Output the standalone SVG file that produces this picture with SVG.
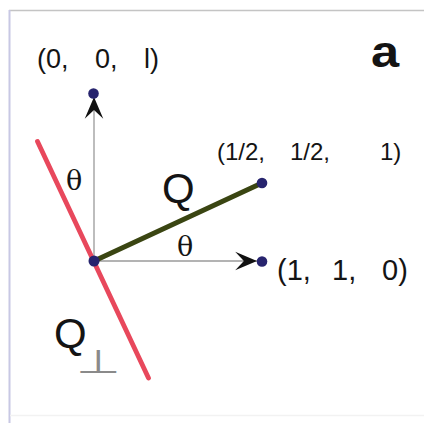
<svg xmlns="http://www.w3.org/2000/svg" width="424" height="423" viewBox="0 0 424 423">
<defs>
<style>
.t{font-family:"Liberation Sans",Arial,sans-serif;fill:#141414}
.g{font-family:"DejaVu Serif",serif;fill:#141414}
.axis{stroke:#9a9a9a;stroke-width:1.3;fill:none}
.dot{fill:#27246e}
</style>
<marker id="ah" markerUnits="userSpaceOnUse" markerWidth="24" markerHeight="20" viewBox="-21 -9 22 18" refX="0" refY="0" orient="auto">
<path d="M0,0 L-20,-8.5 L-12,0 L-20,8.5 Z" fill="#111"/>
</marker>
</defs>
<rect x="0" y="0" width="424" height="423" fill="#fff"/>
<g id="frame">
<line x1="9" y1="10.5" x2="424" y2="10.5" stroke="#c4c4c4" stroke-width="1.5"/>
<line x1="9.5" y1="10" x2="9.5" y2="423" stroke="#c8c8e4" stroke-width="2"/>
<line x1="10" y1="415.5" x2="424" y2="415.5" stroke="#f2f2f2" stroke-width="1.5"/>
</g>
<g id="connectors">
<line class="axis" x1="94" y1="261" x2="94" y2="97" marker-end="url(#ah)"/>
<line class="axis" x1="94" y1="261" x2="257" y2="261" marker-end="url(#ah)"/>
<line id="qperp-line" x1="37.5" y1="141.5" x2="148.5" y2="378" stroke="#e8485c" stroke-width="4.8" stroke-linecap="round"/>
<line id="q-line" x1="94" y1="261" x2="262" y2="183" stroke="#3a4512" stroke-width="5.2" stroke-linecap="round"/>
</g>
<g id="node-origin"><circle class="dot" cx="94" cy="261" r="5.5"/></g>
<g id="node-001">
<circle class="dot" cx="93.5" cy="93.5" r="5.3"/>
<text class="t" font-size="27" y="68"><tspan x="37">(0,</tspan><tspan x="95">0,</tspan><tspan x="144">l)</tspan></text>
</g>
<g id="node-half">
<circle class="dot" cx="262" cy="183" r="5.3"/>
<text class="t" font-size="24" y="160"><tspan x="217">(1/2,</tspan><tspan x="290">1/2,</tspan><tspan x="380">1)</tspan></text>
</g>
<g id="node-110">
<circle class="dot" cx="262" cy="261.5" r="5.3"/>
<text class="t" font-size="29" y="280"><tspan x="277">(1,</tspan><tspan x="332">1,</tspan><tspan x="382">0)</tspan></text>
</g>
<g id="labels">
<text class="t" font-size="44" font-weight="bold" transform="translate(371 67) scale(1.15 1)">a</text>
<text class="g" font-size="27" x="66" y="190">θ</text>
<text class="g" font-size="27" x="177" y="256">θ</text>
<text class="t" font-size="42" x="162" y="203">Q</text>
<text class="t" font-size="42" x="54" y="348">Q</text>
<text font-family="DejaVu Sans,sans-serif" font-size="33" fill="#8a8a8a" transform="translate(76 373) scale(1.55 1)">⊥</text>
</g>
</svg>
